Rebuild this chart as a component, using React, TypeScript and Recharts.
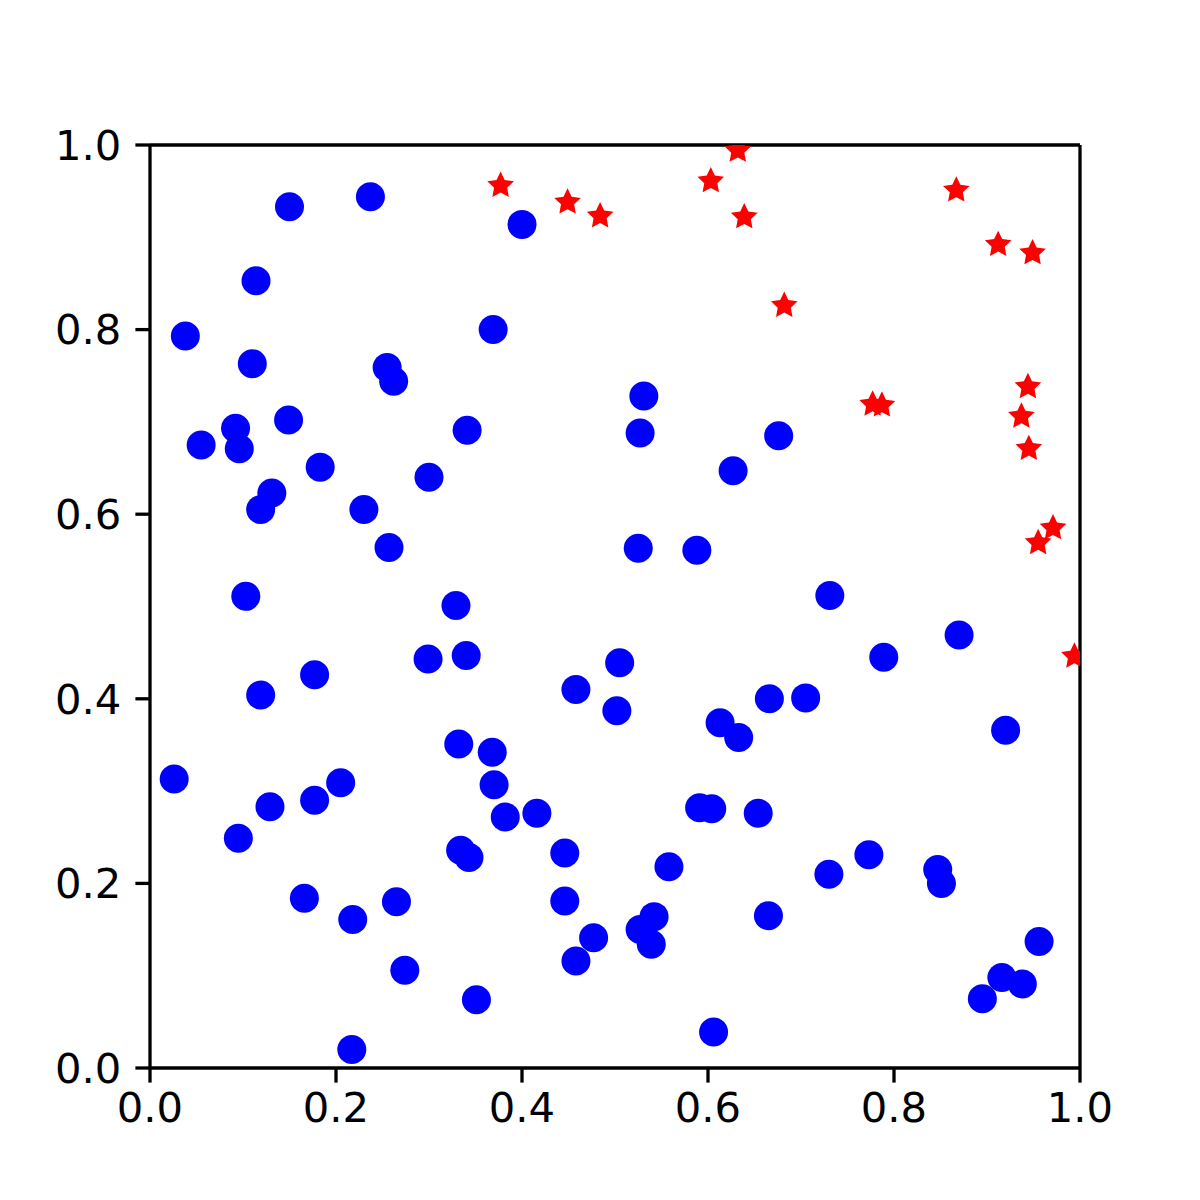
import React from 'react';
import { ScatterChart, Scatter, XAxis, YAxis, ReferenceLine } from 'recharts';

// blue circles (x, y)
const blueX = [
  0.150, 0.237, 0.400, 0.114, 0.038, 0.369, 0.110, 0.255, 0.262, 0.531,
  0.149, 0.092, 0.341, 0.055, 0.096, 0.527, 0.676, 0.627, 0.183, 0.300,
  0.131, 0.119, 0.230, 0.257, 0.525, 0.588, 0.103, 0.329, 0.731, 0.870,
  0.789, 0.299, 0.340, 0.505, 0.177, 0.458, 0.119, 0.666, 0.705, 0.502,
  0.613, 0.633, 0.920, 0.332, 0.368, 0.026, 0.205, 0.370, 0.129, 0.177,
  0.382, 0.416, 0.591, 0.604, 0.654, 0.095, 0.334, 0.343, 0.446, 0.773,
  0.558, 0.730, 0.847, 0.851, 0.166, 0.446, 0.265, 0.218, 0.542, 0.665,
  0.527, 0.539, 0.477, 0.956, 0.458, 0.274, 0.916, 0.938, 0.895, 0.351,
  0.606, 0.217,
];
const blueY = [
  0.933, 0.944, 0.914, 0.853, 0.793, 0.800, 0.763, 0.759, 0.744, 0.728,
  0.702, 0.693, 0.691, 0.675, 0.671, 0.688, 0.685, 0.647, 0.651, 0.640,
  0.623, 0.605, 0.605, 0.564, 0.563, 0.561, 0.511, 0.501, 0.512, 0.469,
  0.445, 0.443, 0.447, 0.439, 0.426, 0.410, 0.404, 0.400, 0.401, 0.387,
  0.374, 0.358, 0.366, 0.351, 0.342, 0.313, 0.309, 0.307, 0.283, 0.290,
  0.272, 0.276, 0.282, 0.281, 0.276, 0.249, 0.236, 0.228, 0.233, 0.231,
  0.218, 0.210, 0.215, 0.200, 0.184, 0.181, 0.180, 0.161, 0.164, 0.165,
  0.150, 0.134, 0.141, 0.137, 0.116, 0.106, 0.098, 0.091, 0.075, 0.074,
  0.039, 0.020,
];

// red stars (x, y)
const redX = [
  0.377, 0.449, 0.484, 0.603, 0.632, 0.639, 0.682, 0.867, 0.912, 0.949,
  0.777, 0.787, 0.944, 0.937, 0.945, 0.971, 0.955, 0.994,
];
const redY = [
  0.956, 0.938, 0.923, 0.961, 0.994, 0.922, 0.826, 0.951, 0.892, 0.883,
  0.719, 0.718, 0.738, 0.706, 0.671, 0.585, 0.569, 0.446,
];

const tickValues = [0, 0.2, 0.4, 0.6, 0.8, 1.0];

const blueData = blueX.map((x, i) => ({ x, y: blueY[i] }));
const redData = redX.map((x, i) => ({ x, y: redY[i] }));

const Dot = (props: any) => {
  const { cx, cy } = props;
  if (cx == null || cy == null) return null;
  return <circle cx={cx} cy={cy} r={14.5} fill="#0000ff" />;
};

const Star = (props: any) => {
  const { cx, cy } = props;
  if (cx == null || cy == null) return null;
  const R = 14;
  const r = 6.9;
  const pts: string[] = [];
  for (let k = 0; k < 10; k++) {
    const a = -Math.PI / 2 + (k * Math.PI) / 5;
    const rad = k % 2 === 0 ? R : r;
    pts.push(`${cx + rad * Math.cos(a)},${cy + rad * Math.sin(a)}`);
  }
  return <polygon points={pts.join(' ')} fill="#ff0000" />;
};

const tickStyle = { fontSize: 41.7, fill: '#000000', fontFamily: 'DejaVu Sans' };

export default function App() {
  return (
    <div style={{ position: 'absolute', left: 0, top: 0, width: 1200, height: 1200, background: '#ffffff' }}>
      <ScatterChart
        width={1200}
        height={1200}
        margin={{ top: 145, right: 120, bottom: 72, left: 50 }}
      >
        <XAxis
          type="number"
          dataKey="x"
          domain={[0, 1]}
          ticks={tickValues}
          allowDataOverflow
          tickFormatter={(v: number) => v.toFixed(1)}
          height={60}
          tickSize={14.6}
          tickMargin={10}
          axisLine={{ stroke: '#000000', strokeWidth: 3.3 }}
          tickLine={{ stroke: '#000000', strokeWidth: 3.3 }}
          tick={tickStyle}
        />
        <YAxis
          type="number"
          dataKey="y"
          domain={[0, 1]}
          ticks={tickValues}
          allowDataOverflow
          tickFormatter={(v: number) => v.toFixed(1)}
          width={100}
          tickSize={14.6}
          tickMargin={14}
          axisLine={{ stroke: '#000000', strokeWidth: 3.3 }}
          tickLine={{ stroke: '#000000', strokeWidth: 3.3 }}
          tick={tickStyle}
        />
        <Scatter data={blueData} shape={Dot} isAnimationActive={false} />
        <Scatter data={redData} shape={Star} isAnimationActive={false} />
        <ReferenceLine y={1} stroke="#000000" strokeWidth={3.3} />
        <ReferenceLine x={1} stroke="#000000" strokeWidth={3.3} />
      </ScatterChart>
    </div>
  );
}
